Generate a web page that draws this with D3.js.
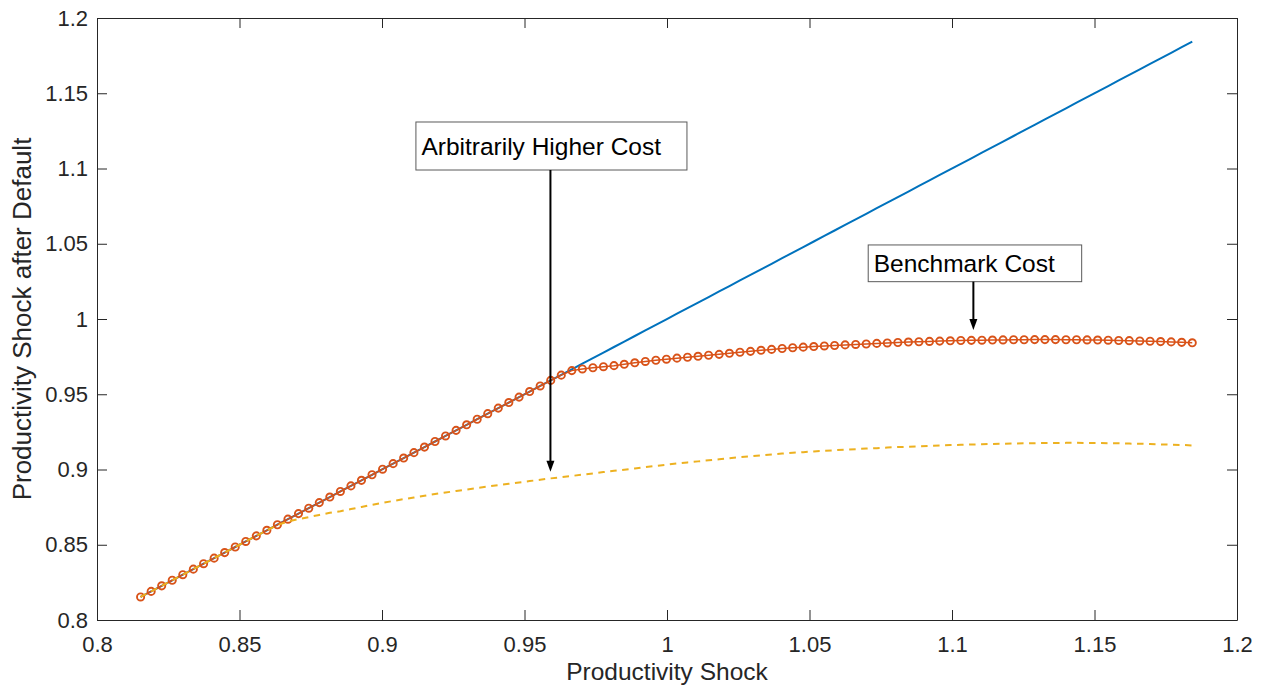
<!DOCTYPE html>
<html>
<head>
<meta charset="utf-8">
<script src="https://cdn.jsdelivr.net/npm/d3@7"></script>
<style>
  body { margin: 0; background: #fff; }
  svg { display: block; font-family: "Liberation Sans", Arial, sans-serif; }
</style>
</head>
<body>
<div id="chart"></div>
<script>
// productivity grid (x)
const shock = [
  0.8153, 0.8190, 0.8227, 0.8264, 0.8301, 0.8338, 0.8374, 0.8411, 0.8448, 0.8485,
  0.8522, 0.8559, 0.8596, 0.8633, 0.8670, 0.8707, 0.8743, 0.8780, 0.8817, 0.8854,
  0.8891, 0.8928, 0.8965, 0.9002, 0.9039, 0.9076, 0.9112, 0.9149, 0.9186, 0.9223,
  0.9260, 0.9297, 0.9334, 0.9371, 0.9408, 0.9445, 0.9481, 0.9518, 0.9555, 0.9592,
  0.9629, 0.9666, 0.9703, 0.9740, 0.9777, 0.9814, 0.9850, 0.9887, 0.9924, 0.9961,
  0.9998, 1.0035, 1.0072, 1.0109, 1.0146, 1.0183, 1.0219, 1.0256, 1.0293, 1.0330,
  1.0367, 1.0404, 1.0441, 1.0478, 1.0515, 1.0552, 1.0588, 1.0625, 1.0662, 1.0699,
  1.0736, 1.0773, 1.0810, 1.0847, 1.0884, 1.0921, 1.0957, 1.0994, 1.1031, 1.1068,
  1.1105, 1.1142, 1.1179, 1.1216, 1.1253, 1.1290, 1.1326, 1.1363, 1.1400, 1.1437,
  1.1474, 1.1511, 1.1548, 1.1585, 1.1622, 1.1659, 1.1695, 1.1732, 1.1769, 1.1806,
  1.1843
];

// no default (blue)
const noDefault = [
  0.8153, 0.8190, 0.8227, 0.8264, 0.8301, 0.8338, 0.8374, 0.8411, 0.8448, 0.8485,
  0.8522, 0.8559, 0.8596, 0.8633, 0.8670, 0.8707, 0.8743, 0.8780, 0.8817, 0.8854,
  0.8891, 0.8928, 0.8965, 0.9002, 0.9039, 0.9076, 0.9112, 0.9149, 0.9186, 0.9223,
  0.9260, 0.9297, 0.9334, 0.9371, 0.9408, 0.9445, 0.9481, 0.9518, 0.9555, 0.9592,
  0.9629, 0.9666, 0.9703, 0.9740, 0.9777, 0.9814, 0.9850, 0.9887, 0.9924, 0.9961,
  0.9998, 1.0035, 1.0072, 1.0109, 1.0146, 1.0183, 1.0219, 1.0256, 1.0293, 1.0330,
  1.0367, 1.0404, 1.0441, 1.0478, 1.0515, 1.0552, 1.0588, 1.0625, 1.0662, 1.0699,
  1.0736, 1.0773, 1.0810, 1.0847, 1.0884, 1.0921, 1.0957, 1.0994, 1.1031, 1.1068,
  1.1105, 1.1142, 1.1179, 1.1216, 1.1253, 1.1290, 1.1326, 1.1363, 1.1400, 1.1437,
  1.1474, 1.1511, 1.1548, 1.1585, 1.1622, 1.1659, 1.1695, 1.1732, 1.1769, 1.1806,
  1.1843
];

// benchmark cost (orange, circles)
const benchmark = [
  0.8153, 0.8190, 0.8227, 0.8264, 0.8301, 0.8338, 0.8374, 0.8411, 0.8448, 0.8485,
  0.8522, 0.8559, 0.8596, 0.8633, 0.8670, 0.8707, 0.8743, 0.8780, 0.8817, 0.8854,
  0.8891, 0.8928, 0.8965, 0.9002, 0.9039, 0.9076, 0.9112, 0.9149, 0.9186, 0.9223,
  0.9260, 0.9297, 0.9334, 0.9371, 0.9408, 0.9445, 0.9481, 0.9518, 0.9555, 0.9592,
  0.9627, 0.9657, 0.9668, 0.9676, 0.9683, 0.9690, 0.9699, 0.9709, 0.9718, 0.9726,
  0.9733, 0.9740, 0.9746, 0.9752, 0.9759, 0.9765, 0.9772, 0.9779, 0.9785, 0.9792,
  0.9798, 0.9804, 0.9809, 0.9813, 0.9817, 0.9821, 0.9824, 0.9828, 0.9831, 0.9834,
  0.9838, 0.9841, 0.9844, 0.9847, 0.9849, 0.9851, 0.9853, 0.9855, 0.9857, 0.9858,
  0.9859, 0.9860, 0.9861, 0.9862, 0.9862, 0.9863, 0.9863, 0.9863, 0.9862, 0.9862,
  0.9861, 0.9860, 0.9859, 0.9857, 0.9856, 0.9854, 0.9852, 0.9850, 0.9848, 0.9845,
  0.9842
];

// arbitrarily higher cost (yellow, dashed)
const higherCost = [
  0.8153, 0.8190, 0.8227, 0.8264, 0.8301, 0.8338, 0.8374, 0.8411, 0.8448, 0.8485,
  0.8522, 0.8559, 0.8596, 0.8630, 0.8655, 0.8670, 0.8684, 0.8698, 0.8712, 0.8723,
  0.8737, 0.8751, 0.8765, 0.8778, 0.8791, 0.8803, 0.8814, 0.8826, 0.8837, 0.8847,
  0.8857, 0.8867, 0.8877, 0.8887, 0.8896, 0.8905, 0.8914, 0.8923, 0.8932, 0.8941,
  0.8949, 0.8957, 0.8966, 0.8974, 0.8983, 0.8991, 0.8999, 0.9007, 0.9016, 0.9024,
  0.9032, 0.9040, 0.9047, 0.9054, 0.9061, 0.9068, 0.9075, 0.9082, 0.9088, 0.9094,
  0.9100, 0.9106, 0.9111, 0.9115, 0.9120, 0.9124, 0.9128, 0.9132, 0.9135, 0.9139,
  0.9142, 0.9146, 0.9149, 0.9151, 0.9154, 0.9157, 0.9159, 0.9162, 0.9164, 0.9166,
  0.9168, 0.9170, 0.9171, 0.9173, 0.9174, 0.9175, 0.9176, 0.9176, 0.9177, 0.9177,
  0.9176, 0.9176, 0.9175, 0.9174, 0.9172, 0.9171, 0.9169, 0.9167, 0.9165, 0.9163,
  0.9160
];

const xTicks = [0.8, 0.85, 0.9, 0.95, 1, 1.05, 1.1, 1.15, 1.2];
const yTicks = [0.8, 0.85, 0.9, 0.95, 1, 1.05, 1.1, 1.15, 1.2];
const xTitle = "Productivity Shock";
const yTitle = "Productivity Shock after Default";

// text boxes with arrows, in data units: box corners and arrow tip
const notes = [
  { text: "Arbitrarily Higher Cost", x0: 0.9119, x1: 1.0070, y0: 1.1309, y1: 1.0990, ax: 0.9591, tip: 0.8985 },
  { text: "Benchmark Cost", x0: 1.0706, x1: 1.1455, y0: 1.0492, y1: 1.0248, ax: 1.1075, tip: 0.9927 }
];

const W = 1268, H = 689;
const mLeft = 97, mRight = 1237, mTop = 18, mBottom = 620;

const x = d3.scaleLinear().domain([0.8, 1.2]).range([mLeft, mRight]);
const y = d3.scaleLinear().domain([0.8, 1.2]).range([mBottom, mTop]);

const svg = d3.select("#chart").append("svg")
  .attr("width", W).attr("height", H);

const fmt = d => String(+d.toFixed(2));
const axisColor = "#262626";

const styleAxis = g => {
  g.selectAll(".domain").attr("stroke", axisColor).attr("stroke-width", 1);
  g.selectAll(".tick line").attr("stroke", axisColor).attr("stroke-width", 1);
  g.selectAll(".tick text").attr("fill", "#262626").attr("font-size", 22)
    .attr("font-family", "'Liberation Sans', Arial, sans-serif");
};

svg.append("g").attr("transform", `translate(0,${mBottom})`)
  .call(d3.axisBottom(x).tickValues(xTicks).tickFormat(fmt).tickSizeInner(-10).tickSizeOuter(0).tickPadding(16))
  .call(styleAxis);
svg.append("g").attr("transform", `translate(0,${mTop})`)
  .call(d3.axisTop(x).tickValues(xTicks).tickFormat("").tickSizeInner(-10).tickSizeOuter(0))
  .call(styleAxis);
svg.append("g").attr("transform", `translate(${mLeft},0)`)
  .call(d3.axisLeft(y).tickValues(yTicks).tickFormat(fmt).tickSizeInner(-10).tickSizeOuter(0).tickPadding(9))
  .call(styleAxis);
svg.append("g").attr("transform", `translate(${mRight},0)`)
  .call(d3.axisRight(y).tickValues(yTicks).tickFormat("").tickSizeInner(-10).tickSizeOuter(0))
  .call(styleAxis);

// axis titles
svg.append("text")
  .attr("x", (mLeft + mRight) / 2).attr("y", 680)
  .attr("text-anchor", "middle").attr("font-size", 24.5).attr("fill", "#262626")
  .text(xTitle);
svg.append("text")
  .attr("transform", `translate(31,${(mTop + mBottom) / 2}) rotate(-90)`)
  .attr("text-anchor", "middle").attr("font-size", 26).attr("fill", "#262626")
  .text(yTitle);

const line = vals => d3.line()
  .x((d, i) => x(shock[i]))
  .y(d => y(d))(vals);

const plot = svg.append("g");

plot.append("path")
  .attr("d", line(noDefault))
  .attr("fill", "none").attr("stroke", "#0072BD").attr("stroke-width", 2);

plot.append("path")
  .attr("d", line(benchmark))
  .attr("fill", "none").attr("stroke", "#D95319").attr("stroke-width", 1.5);

plot.append("g").selectAll("circle")
  .data(benchmark)
  .join("circle")
  .attr("cx", (d, i) => x(shock[i]))
  .attr("cy", d => y(d))
  .attr("r", 3.6)
  .attr("fill", "none")
  .attr("stroke", "#D95319")
  .attr("stroke-width", 1.9);

plot.append("path")
  .attr("d", line(higherCost))
  .attr("fill", "none").attr("stroke", "#EDB120").attr("stroke-width", 2)
  .attr("stroke-dasharray", "6.5,5.5");

// annotations
const ann = svg.append("g");
notes.forEach(n => {
  const bx = x(n.x0), by = y(n.y0), bw = x(n.x1) - x(n.x0), bh = y(n.y1) - y(n.y0);
  ann.append("rect")
    .attr("x", bx).attr("y", by).attr("width", bw).attr("height", bh)
    .attr("fill", "#fff").attr("stroke", "#5a5a5a").attr("stroke-width", 1);
  ann.append("text")
    .attr("x", bx + 5.5).attr("y", by + bh / 2 + 8.5)
    .attr("font-size", 24.5).attr("fill", "#000")
    .text(n.text);
  const ax = x(n.ax), y0 = by + bh, y1 = y(n.tip);
  ann.append("line")
    .attr("x1", ax).attr("x2", ax).attr("y1", y0).attr("y2", y1 - 8)
    .attr("stroke", "#000").attr("stroke-width", 2);
  ann.append("path")
    .attr("d", `M${ax},${y1} L${ax - 4},${y1 - 11} L${ax + 4},${y1 - 11} Z`)
    .attr("fill", "#000");
});
</script>
</body>
</html>
